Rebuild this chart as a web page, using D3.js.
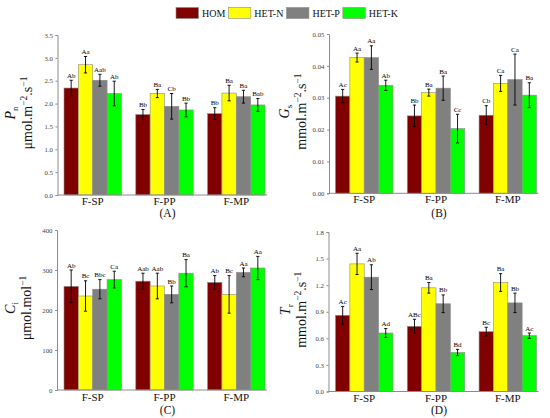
<!DOCTYPE html>
<html>
<head>
<meta charset="utf-8">
<script src="https://cdn.jsdelivr.net/npm/d3@7"></script>
<style>
  body { margin: 0; background: #fff; }
  text { font-family: "Liberation Serif", "Times New Roman", serif; }
</style>
</head>
<body>
<div id="chart"></div>
<script>
// categories and series
var groups = ["F-SP", "F-PP", "F-MP"];
var series = ["HOM", "HET-N", "HET-P", "HET-K"];
var colors = ["#800000", "#ffff00", "#808080", "#00ff00"];

// (A) Pn
var pnMean = [[2.34, 2.85, 2.51, 2.22], [1.76, 2.22, 1.94, 1.86], [1.78, 2.23, 2.15, 1.97]];
var pnErr = [[0.17, 0.18, 0.13, 0.27], [0.11, 0.09, 0.28, 0.15], [0.13, 0.17, 0.14, 0.14]];
var pnLetters = [["Ab", "Aa", "Aab", "Ab"], ["Bb", "Ba", "Cb", "Bb"], ["Bb", "Ba", "Ba", "Bab"]];
var pnTicks = [0, 0.5, 1, 1.5, 2, 2.5, 3, 3.5];

// (B) Gs
var gsMean = [[0.0305, 0.0426, 0.0426, 0.0339], [0.0243, 0.0316, 0.0330, 0.0203], [0.0245, 0.0345, 0.0357, 0.0308]];
var gsErr = [[0.0021, 0.0014, 0.0037, 0.0016], [0.0034, 0.0011, 0.0038, 0.0045], [0.0030, 0.0025, 0.0080, 0.0039]];
var gsLetters = [["Ac", "Aa", "Aa", "Ab"], ["Bb", "Ba", "Ba", "Cc"], ["Cb", "Ca", "Ca", "Ba"]];
var gsTicks = [0, 0.01, 0.02, 0.03, 0.04, 0.05];

// (C) Ci
var ciMean = [[259, 235, 252, 276], [272, 260, 239, 292], [269, 239, 294, 305]];
var ciErr = [[41, 38, 24, 21], [20, 32, 21, 34], [17, 47, 11, 29]];
var ciLetters = [["Ab", "Bc", "Bbc", "Ca"], ["Aab", "Aab", "Bb", "Ba"], ["Ab", "Bc", "Aa", "Aa"]];
var ciTicks = [0, 100, 200, 300, 400];

// (D) Tr
var trMean = [[0.86, 1.44, 1.29, 0.66], [0.735, 1.17, 0.99, 0.44], [0.675, 1.23, 1.00, 0.63]];
var trErr = [[0.10, 0.12, 0.14, 0.05], [0.08, 0.06, 0.10, 0.035], [0.05, 0.10, 0.11, 0.03]];
var trLetters = [["Ac", "Aa", "Ab", "Ad"], ["ABc", "Ba", "Bb", "Bd"], ["Bc", "Ba", "Bb", "Ac"]];
var trTicks = [0, 0.3, 0.6, 0.9, 1.2, 1.5, 1.8];

var svg = d3.select("#chart").append("svg")
  .attr("width", 550)
  .attr("height", 418);

svg.append("rect").attr("width", 550).attr("height", 418).attr("fill", "#fff");

// layout of the four panels
var panels = [
  { mean: pnMean, err: pnErr, letters: pnLetters, ticks: pnTicks, fmt: ".1f",
    sym: "P", sub: "n", unit: [["μmol.m", "−2"], [".s", "−1"]],
    axisX: 57.5, x0: 64, x1: 265, yTop: 35, yBase: 195, t1: 15, t2: 32,
    labY: 9.5, tag: "(A)", tagY: 217 },
  { mean: gsMean, err: gsErr, letters: gsLetters, ticks: gsTicks, fmt: ".2f",
    sym: "G", sub: "s", unit: [["mmol.m", "−2"], [".s", "−1"]],
    axisX: 329, x0: 335.5, x1: 536.5, yTop: 34, yBase: 193.3, t1: 289, t2: 306,
    labY: 10, tag: "(B)", tagY: 217 },
  { mean: ciMean, err: ciErr, letters: ciLetters, ticks: ciTicks, fmt: "d",
    sym: "C", sub: "i", unit: [["μmol.mol", "−1"]],
    axisX: 57, x0: 64, x1: 265, yTop: 230, yBase: 390, t1: 15, t2: 31,
    labY: 11, tag: "(C)", tagY: 414 },
  { mean: trMean, err: trErr, letters: trLetters, ticks: trTicks, fmt: ".1f",
    sym: "T", sub: "r", unit: [["mmol.m", "−2"], [".s", "−1"]],
    axisX: 328.5, x0: 335.5, x1: 536.5, yTop: 232, yBase: 391.5, t1: 290, t2: 306,
    labY: 10, tag: "(D)", tagY: 414 }
];

panels.forEach(drawPanel);

function drawPanel(p) {
  var g = svg.append("g");

  var y = d3.scaleLinear()
    .domain([0, p.ticks[p.ticks.length - 1]])
    .range([p.yBase, p.yTop]);
  var x = d3.scaleBand()
    .domain(groups)
    .range([p.x0, p.x1])
    .paddingInner(0.2)
    .paddingOuter(0);
  var xs = d3.scaleBand()
    .domain(series)
    .range([0, x.bandwidth()]);

  // one row per bar
  var rows = [];
  groups.forEach(function(grp, i) {
    series.forEach(function(s, j) {
      rows.push({ grp: grp, s: s, j: j, v: p.mean[i][j], e: p.err[i][j], lab: p.letters[i][j] });
    });
  });

  var barG = g.selectAll("g.bar")
    .data(rows)
    .enter()
    .append("g")
    .attr("class", "bar");

  barG.append("rect")
    .attr("x", d => x(d.grp) + xs(d.s))
    .attr("y", d => y(d.v))
    .attr("width", xs.bandwidth())
    .attr("height", d => p.yBase - y(d.v))
    .attr("fill", d => colors[d.j])
    .attr("stroke", "#8c8c8c")
    .attr("stroke-width", 0.6);

  // error bars
  var cx = d => x(d.grp) + xs(d.s) + xs.bandwidth() / 2;
  barG.append("line")
    .attr("x1", cx).attr("x2", cx)
    .attr("y1", d => y(d.v - d.e))
    .attr("y2", d => y(d.v + d.e))
    .attr("stroke", "#000").attr("stroke-width", 0.9);
  [-1, 1].forEach(function(k) {
    barG.append("line")
      .attr("x1", d => cx(d) - 1.6).attr("x2", d => cx(d) + 1.6)
      .attr("y1", d => y(d.v + k * d.e))
      .attr("y2", d => y(d.v + k * d.e))
      .attr("stroke", "#000").attr("stroke-width", 0.9);
  });

  // significance letters
  barG.append("text")
    .attr("x", cx)
    .attr("y", d => y(d.v + d.e) - 2.5)
    .attr("text-anchor", "middle")
    .attr("font-size", 7)
    .attr("fill", "#000")
    .text(d => d.lab);

  // y axis
  var yAxis = d3.axisLeft(y)
    .tickValues(p.ticks)
    .tickFormat(d3.format(p.fmt))
    .tickSize(2)
    .tickPadding(2.5);
  var ya = g.append("g")
    .attr("transform", `translate(${p.axisX},0)`)
    .call(yAxis);
  ya.select(".domain").attr("stroke", "#8c8c8c");
  ya.selectAll(".tick line").attr("stroke", "#8c8c8c");
  ya.selectAll(".tick text")
    .attr("font-size", 6.8)
    .attr("fill", "#444");

  // x axis: labels only, baseline drawn as a plain line
  var xAxis = d3.axisBottom(x).tickSize(0).tickPadding(0);
  var xa = g.append("g")
    .attr("transform", `translate(0,${p.yBase})`)
    .call(xAxis);
  xa.select(".domain").remove();
  xa.selectAll(".tick text")
    .attr("y", p.labY)
    .attr("dy", 0)
    .attr("font-size", 11)
    .attr("fill", "#111");
  g.append("line")
    .attr("x1", p.axisX).attr("x2", p.x1 + 2)
    .attr("y1", p.yBase).attr("y2", p.yBase)
    .attr("stroke", "#8c8c8c");

  // y axis title, two rotated lines
  var midY = (p.yTop + p.yBase) / 2 - 2;
  var t1 = g.append("text")
    .attr("transform", `translate(${p.t1},${midY}) rotate(-90)`)
    .attr("text-anchor", "middle")
    .attr("font-size", 14)
    .attr("fill", "#111");
  t1.append("tspan").attr("font-style", "italic").text(p.sym);
  t1.append("tspan").attr("font-size", 9).attr("dy", 3).text(p.sub);

  var t2 = g.append("text")
    .attr("transform", `translate(${p.t2},${midY}) rotate(-90)`)
    .attr("text-anchor", "middle")
    .attr("font-size", 14)
    .attr("fill", "#111");
  p.unit.forEach(function(u, k) {
    t2.append("tspan").attr("dy", k === 0 ? 0 : 5.5).text(u[0]);
    t2.append("tspan").attr("font-size", 9.5).attr("dy", -5.5).text(u[1]);
  });

  // panel tag
  g.append("text")
    .attr("x", x(groups[1]) + x.bandwidth() / 2 + 3)
    .attr("y", p.tagY)
    .attr("text-anchor", "middle")
    .attr("font-size", 11.5)
    .attr("fill", "#111")
    .text(p.tag);
}

// legend
var lx = 176;
series.forEach(function(s, j) {
  svg.append("rect")
    .attr("x", lx).attr("y", 7.5)
    .attr("width", 22.5).attr("height", 11)
    .attr("fill", colors[j])
    .attr("stroke", "#8c8c8c")
    .attr("stroke-width", 0.6);
  var t = svg.append("text")
    .attr("x", lx + 26)
    .attr("y", 16.8)
    .attr("font-size", 10)
    .attr("fill", "#111")
    .text(s);
  lx = lx + 26 + t.node().getComputedTextLength() + 3;
});
</script>
</body>
</html>
